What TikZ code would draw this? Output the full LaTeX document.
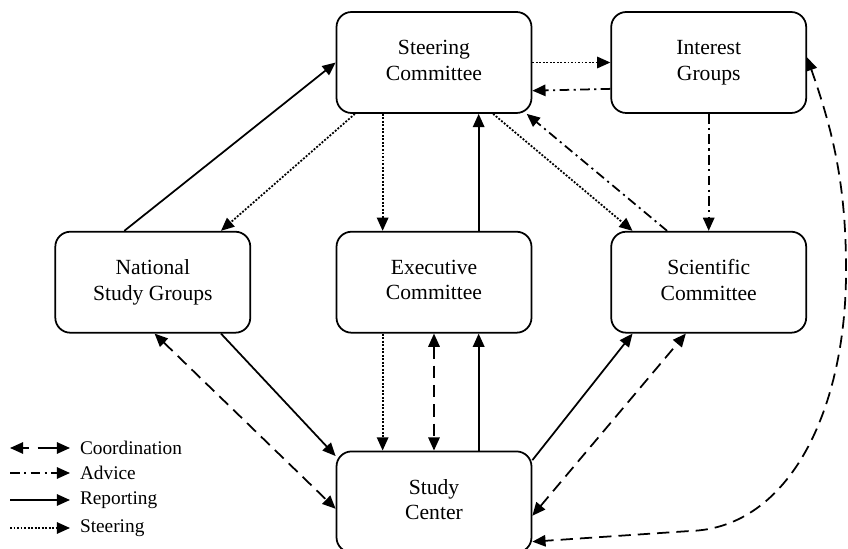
\documentclass[tikz,border=0pt]{standalone}
\usepackage{fontspec}
\setmainfont{Liberation Serif}
\usetikzlibrary{arrows.meta,positioning}

\begin{document}
\begin{tikzpicture}[x=0.02cm,y=0.02cm,>={Triangle[length=7.5pt,width=6.5pt]},
  every node/.style={font=\fontsize{12.3}{14.5}\selectfont},
  box/.style={draw,line width=1pt,rounded corners=0.3cm,minimum width=3.9cm,minimum height=2.02cm,align=center,
    execute at begin node=\rule{0pt}{13pt},execute at end node=\rule[-2.5pt]{0pt}{2.5pt}},
  link/.style={line width=1pt,->},
  coordination/.style={link,<->,dash pattern=on 7pt off 4pt},
  advice/.style={link,dash pattern=on 5.5pt off 2.5pt on 1.2pt off 2.5pt},
  reporting/.style={link},
  steering/.style={link,dash pattern=on 1.1pt off 0.9pt},
  legend/.style={anchor=west,inner xsep=5.5pt,font=\fontsize{11}{13}\selectfont}]
\useasboundingbox (0,0) rectangle (848,548);

% committees
\node[box] (steer) at (434,485.5) {Steering\\Committee};
\node[box,right=1.56cm of steer] (interest) {Interest\\Groups};
\node[box,below=2.34cm of steer] (exec) {Executive\\Committee};
\node[box,left=1.69cm of exec] (national) {National\\Study Groups};
\node[box,below=2.34cm of interest] (sci) {Scientific\\Committee};
\node[box,below=2.34cm of exec] (study) {Study\\Center};

% links
\draw[reporting] (national.119) -- (steer.west);
\draw[steering] (steer.213.6) -- (national.37);
\draw[steering] (steer.225) -- (exec.135);
\draw[reporting] (exec.49) -- (steer.311);
\draw[steering] (steer.319) -- (sci.146);
\draw[advice] (sci.129) -- (steer.331);
\draw[steering] (steer.east) -- (interest.west);
\draw[advice] (interest.195.75) -- (steer.344.25);
\draw[advice] (interest.south) -- (sci.north);
\draw[steering] (exec.225) -- (study.135);
\draw[coordination] (exec.south) -- (study.north);
\draw[reporting] (study.49) -- (exec.311);
\draw[reporting] (national.323) -- (study.155);
\draw[coordination] (national.272) -- (study.184);
\draw[reporting] (study.23) -- (sci.214);
\draw[coordination] (study.352) -- (sci.246.5);
\coordinate (bend) at (846,280);
\draw[coordination] (interest.3) .. controls (830,425) and (846,370) .. (bend)
  .. controls (847,140) and (790,20) .. (690,17) -- (study.338.5);

% legend
\node[legend] (lcoord) at (70,100) {Coordination};
\node[legend] (ladvice) at (70,75) {Advice};
\node[legend] (lreport) at (70,48) {Reporting};
\node[legend] (lsteer) at (70,20) {Steering};
\coordinate (lc) at (10,100);
\coordinate (la) at (10,75);
\coordinate (lr) at (10,48);
\coordinate (ls) at (10,20);
\draw[coordination,dash pattern=on 3.5pt off 5pt on 12pt] (lc) -- (lcoord.west);
\draw[advice] (la) -- (ladvice.west);
\draw[reporting] (lr) -- (lreport.west);
\draw[steering] (ls) -- (lsteer.west);
\end{tikzpicture}
\end{document}
